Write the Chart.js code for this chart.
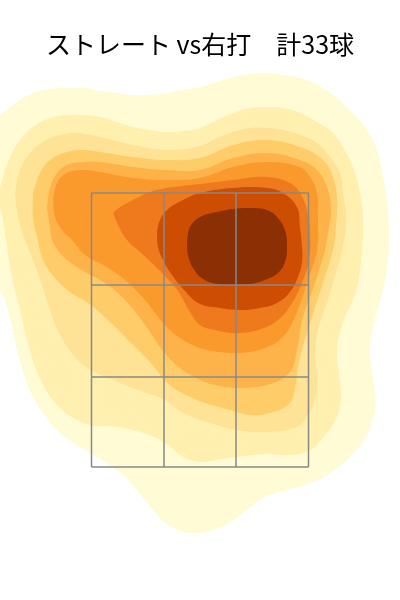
<!DOCTYPE html>
<html>
<head>
<meta charset="utf-8">
<script src="https://cdn.jsdelivr.net/npm/chart.js@4/dist/chart.umd.min.js"></script>
<style>
html,body{margin:0;padding:0;background:#ffffff;}
#wrap{width:400px;height:600px;position:relative;}
</style>
</head>
<body>
<div id="wrap"><canvas id="c" width="400" height="600"></canvas></div>
<script>
// Title
const chartTitle = 'ストレート vs右打\u3000計33球';

// Density contour levels (outermost -> innermost); x = horizontal position (cm), y = height (cm)
const levelColors = ['#fffbd4','#fff0b0','#fee296','#fecd6a','#feb24a','#fb9a2c','#ee7a1d','#cd4e03','#8b3004'];

const level1 = [[-41,114.4],[-40,115.4],[-36.6,118],[-33.4,119.8],[-30,120.6],[-26.6,120.8],[-23.4,120.8],[-20,120.2],[-16.6,119.8],[-13.4,119.4],[-10,119.4],[-6.6,119.8],[-3.4,120.4],[0,121],[3.4,122],[6.6,123],[10,123.6],[13.4,123.8],[16.6,123.4],[20,122.8],[23.4,121.4],[26.6,119.4],[30,116.4],[33.4,112.4],[35.4,108.4],[36.6,103],[37.6,96.4],[37.8,89.8],[37.4,84.8],[36.6,80.4],[35.4,76],[34.4,72],[34,68],[34.4,64],[35,60],[35,56.4],[34.2,53.4],[32.8,50.4],[30.4,47.4],[27.6,45],[24.4,42.8],[20.4,41.2],[16.6,40.2],[13,39],[9.8,36.8],[6.4,34.2],[2.6,32.4],[-1,31.8],[-4.4,32.4],[-7.6,34.4],[-10.2,37.4],[-12.8,40.6],[-15.4,43.4],[-18.4,45.6],[-22,47.8],[-25.6,50],[-28.8,52.6],[-31.4,55.8],[-33.4,59],[-34.6,61.8],[-35.6,65],[-36.6,68.4],[-37.6,73],[-38.6,77],[-40,80.4],[-41,82.4]];

const level2 = [[-40.6,98.4],[-39.4,103],[-38,107],[-36,110.4],[-33.4,113],[-30,114.8],[-26.6,115.4],[-23.4,115.4],[-20,115],[-16.6,114],[-13.4,113],[-10,112.4],[-6.6,112],[-3.4,112.2],[0,112.8],[3.4,114.4],[6.6,115.8],[10,116.8],[13.4,117],[16.6,116.8],[20,115.8],[23.4,114],[26.6,111.8],[28.6,109],[30.6,105],[32,99.8],[32.6,94.4],[32.4,88.4],[31.6,81.8],[30.6,78.4],[29,75],[28,71.8],[27.4,68.4],[27.6,65],[28,61.8],[28.2,58.4],[27.4,55],[25.4,51.8],[22,48.4],[18,47.4],[13.4,47.6],[7.4,47],[3.4,46.4],[0,46],[-3.4,47],[-7,49.8],[-11.4,51.8],[-16.6,53],[-22,53.4],[-26,55.2],[-29,57.8],[-31.4,61.4],[-33,65],[-34.6,70.4],[-36,76.4],[-37.4,81.8],[-38.2,86.4],[-38.8,90.4],[-39.6,95.4]];

const level3 = [[-37,99.8],[-36,104.4],[-34,107.8],[-31.4,110],[-28,111.4],[-24.6,111.8],[-20,111],[-13.4,109.4],[-6.6,108.4],[0,109.2],[3.4,110.8],[6.6,112],[10,112.8],[13.4,112.8],[16.6,112.4],[20,111.4],[23.4,109.8],[26,107],[28,103.8],[28.6,99.8],[29.2,94.4],[28.4,88.4],[26.6,81.8],[25.6,78.4],[24.4,75],[23.4,71.8],[23,68.4],[23.2,65],[23.4,61.8],[23,58.4],[21.4,55],[19.4,53],[13.4,52],[7.4,52.4],[2,53.8],[-3.4,55.8],[-7,58.4],[-11.4,60],[-16,61.8],[-21.8,64.4],[-25,67],[-28,71.4],[-30,76.4],[-31.6,81.4],[-33.4,86.4],[-35,90.4],[-36.4,95]];

const level4 = [[-33.4,99.8],[-32,103.8],[-30,106.4],[-26.6,108],[-23.4,108.4],[-20,108],[-13.4,107],[-6.6,106.4],[0,106.8],[6.6,109.4],[13.4,110.4],[20,109],[24.6,106.4],[26.6,103],[27.4,98.4],[27.2,93],[26.6,88.4],[24.6,81.8],[22.4,75],[21.4,71.8],[20.4,68.4],[19.6,65],[19.2,61.8],[18,57.8],[14,55.8],[10,55.4],[6,56.4],[-0.6,58.4],[-6,61.4],[-10,66],[-14,70],[-18,74],[-21.8,77.4],[-26,80],[-29,82.8],[-31.4,86.4],[-32.6,91],[-33.4,95]];

const level5 = [[-30.6,96.8],[-30,100.8],[-28.6,103.8],[-26.6,105.4],[-23.4,106],[-20,106],[-13.4,105],[-6.6,104.4],[0,104.4],[6.6,106.8],[13.4,107.8],[20,106.4],[23.4,104.4],[25.4,101],[26.2,96.4],[25.6,91.8],[25,88.4],[23,81.8],[20.6,75],[19.4,68.4],[18,64],[14,61.6],[8,60.8],[3,61.4],[0,62.4],[-4,64.8],[-7.2,68],[-11,73.4],[-15,78.4],[-19,81.8],[-23,84],[-26.6,86.4],[-28,87.8],[-29.6,90.4],[-30,93]];

const level6 = [[-29.4,98.4],[-28.6,101.8],[-26.6,103.8],[-23.4,104.4],[-20,104],[-13.4,102.8],[-6.6,102.4],[0,102.8],[6.6,105],[13.4,106],[20,105],[22,103],[23.4,99.8],[23.6,94.4],[23.4,88.4],[21.4,81.8],[19,75],[16.4,70.8],[12.4,68.6],[8,67.8],[4,68],[0,68.8],[-4,70.8],[-7.2,73.6],[-11,78.4],[-15,82.4],[-19,85.2],[-23,87.4],[-25.6,90.4],[-27.6,92.4],[-29,95]];

const level7 = [[-17.4,95.8],[-16,97],[-13.4,98.4],[-10,100],[-6.6,100.8],[0,101.6],[6.6,102.4],[13.4,103],[18,101.8],[20,99.8],[21.4,96.4],[22,91.8],[21.8,86.4],[20.4,81.8],[18.4,77.8],[15.6,74.4],[11.6,72.4],[7,71.8],[3,72.4],[0,73.4],[-2,76],[-4.4,80.2],[-7,83.2],[-9.6,85.8],[-12,88],[-14.6,90.4],[-16.4,93.4]];

const level8 = [[-8.6,92],[-8,94.4],[-6.6,96.4],[-3.4,98.4],[0,99.8],[6.6,100.8],[13.4,100.8],[16.6,99.8],[19.4,97],[20,93],[20.4,89],[20.4,86],[19.6,83],[18,80],[15.4,77.8],[12,76.8],[8,76.4],[4,76.8],[0,77.6],[-3,80.2],[-5.6,83.4],[-7.4,86.4],[-8.4,89]];

const level9 = [[-2.6,90.4],[-2,93],[0,95],[3.4,96],[6.6,96.6],[10,96.8],[13.4,96.4],[15.4,95],[17,92.4],[17.4,89],[17,86],[15.6,83.8],[13,82.4],[10,81.6],[6.6,81.4],[3.4,81.6],[0.6,82.6],[-1.4,84.8],[-2.4,87.4]];

const levels = [level1, level2, level3, level4, level5, level6, level7, level8, level9];

// Strike zone (3x3 grid) boundaries
const zoneX = [-21.7, -7.2, 7.2, 21.7];
const zoneZ = [45, 63, 81.4, 99.8];

const datasets = [];
levels.forEach((pts, i) => {
  const data = pts.map(p => ({x: p[0], y: p[1]}));
  data.push({x: pts[0][0], y: pts[0][1]});
  datasets.push({
    data,
    backgroundColor: levelColors[i],
    borderWidth: 0,
    borderColor: levelColors[i],
    fill: 'shape',
    tension: 0.4,
    pointRadius: 0,
    order: 20 - i
  });
});
zoneX.forEach(x => {
  datasets.push({data: [{x, y: zoneZ[0]}, {x, y: zoneZ[3]}], borderColor: '#888888', borderWidth: 1.5, fill: false, pointRadius: 0, tension: 0, order: 0});
});
zoneZ.forEach(z => {
  datasets.push({data: [{x: zoneX[0], y: z}, {x: zoneX[3], y: z}], borderColor: '#888888', borderWidth: 1.5, fill: false, pointRadius: 0, tension: 0, order: 0});
});

new Chart(document.getElementById('c'), {
  type: 'line',
  data: {datasets},
  options: {
    responsive: false,
    animation: false,
    events: [],
    layout: {padding: 0},
    plugins: {
      legend: {display: false},
      tooltip: {enabled: false},
      title: {
        display: true,
        text: chartTitle,
        color: '#000000',
        font: {family: "'Noto Sans CJK JP', 'Noto Sans', sans-serif", size: 25, weight: 'normal', lineHeight: 1.2},
        padding: {top: 29, bottom: 8}
      }
    },
    scales: {
      x: {type: 'linear', min: -40, max: 40, display: false},
      y: {type: 'linear', min: 18.4, max: 125, display: false}
    }
  }
});
</script>
</body>
</html>
